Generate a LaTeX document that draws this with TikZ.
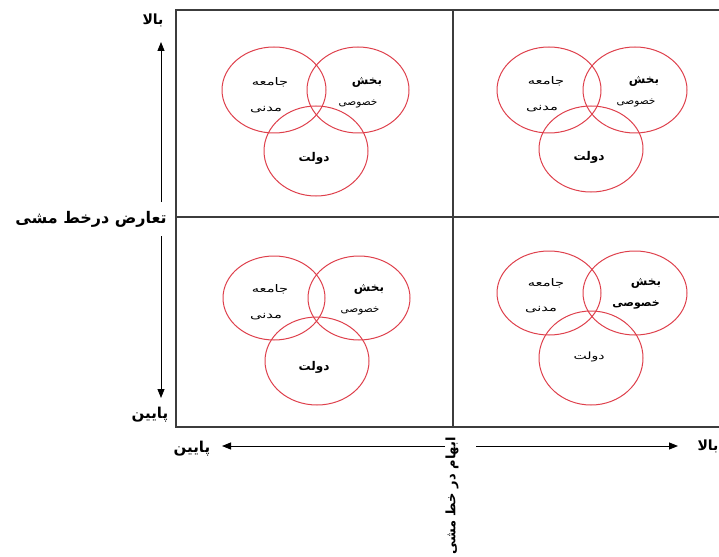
\documentclass[tikz,border=0pt]{standalone}
\usepackage{fontspec}
\usetikzlibrary{arrows.meta,shapes.geometric}
\TeXXeTstate=1
\newfontfamily\arabicfont[Script=Arabic]{DejaVu Sans}
\newfontfamily\arabicwide[Script=Arabic,FakeStretch=1.4]{DejaVu Sans}
\definecolor{ringred}{RGB}{222,64,76}
\definecolor{frame}{RGB}{60,60,60}
\newcommand{\rtl}[1]{\beginR #1\endR}
\tikzset{
  ring/.style={draw=ringred, line width=1pt, ellipse, inner sep=0pt},
  cellw/.style={font=\arabicwide\fontsize{10.5}{11}\selectfont, inner sep=0pt},
  cell/.style={font=\arabicfont\fontsize{10.5}{11}\selectfont, inner sep=0pt},
  cellb/.style={font=\arabicfont\bfseries\fontsize{12}{13}\selectfont, inner sep=0pt},
  axis/.style={font=\arabicfont\bfseries\fontsize{14}{15}\selectfont, inner sep=0pt},
  arr/.style={draw=black, line width=0.9pt, -{Triangle[length=9pt,width=7pt]}},
  gridline/.style={draw=frame, line width=1.1pt}
}
\begin{document}
\begin{tikzpicture}[x=1pt,y=-1pt]
\useasboundingbox (0,0) rectangle (719,556);

% quadrant frame (runs off the right edge)
\coordinate (tl) at (176,10);
\coordinate (bl) at (176,427);
\coordinate (tr) at (725,10);
\coordinate (br) at (725,427);
\coordinate (mt) at (453,10);
\coordinate (mb) at (453,427);
\coordinate (ml) at (176,217);
\coordinate (mr) at (725,217);
\draw[gridline] (tr) -- (tl) -- (bl) -- (br);
\draw[gridline] (mt) -- (mb);
\draw[gridline] (ml) -- (mr);

% vertical axis
\node[axis] (vhi) at (153,20) {\rtl{بالا}};
\node[axis, font=\arabicfont\bfseries\fontsize{15}{16}\selectfont] (vlo) at (150,415) {\rtl{پایین}};
\node[axis, font=\arabicfont\bfseries\fontsize{16}{18}\selectfont] (vlab) at (91,219) {\rtl{تعارض درخط مشی}};
\coordinate (va) at (161,202);
\coordinate (vtop) at (161,42);
\coordinate (vb) at (161,236);
\coordinate (vbot) at (161,398);
\draw[arr] (va) -- (vtop);
\draw[arr] (vb) -- (vbot);

% horizontal axis
\node[axis, font=\arabicfont\bfseries\fontsize{15}{16}\selectfont] (hlo) at (192,449) {\rtl{پایین}};
\node[axis] (hhi) at (708,446) {\rtl{بالا}};
\node[axis, font=\arabicfont\bfseries\fontsize{13}{14}\selectfont, rotate=90, anchor=east] (hlab) at (452,437) {\rtl{ابهام در خط مشی}};
\coordinate (ha) at (445,446);
\coordinate (hleft) at (222,446);
\coordinate (hb) at (476,446);
\coordinate (hright) at (678,446);
\draw[arr] (ha) -- (hleft);
\draw[arr] (hb) -- (hright);

% top-left cluster
\node[ring, minimum width=104pt, minimum height=86pt] (c1) at (274,90) {};
\node[ring, minimum width=102pt, minimum height=86pt] (p1) at (358,90) {};
\node[ring, minimum width=104pt, minimum height=90pt] (g1) at (316,151) {};
\node[cellw] (c1a) at (270,82) {\rtl{جامعه}};
\node[cellw] (c1b) at (266,110) {\rtl{مدنی}};
\node[cellb] (p1a) at (367,82) {\rtl{بخش}};
\node[cell] (p1b) at (358,104) {\rtl{خصوصی}};
\node[cellb] (g1a) at (314,158) {\rtl{دولت}};

% top-right cluster
\node[ring, minimum width=104pt, minimum height=86pt] (c2) at (549,90) {};
\node[ring, minimum width=104pt, minimum height=86pt] (p2) at (635,90) {};
\node[ring, minimum width=104pt, minimum height=86pt] (g2) at (591,149) {};
\node[cellw] (c2a) at (546,81) {\rtl{جامعه}};
\node[cellw] (c2b) at (542,109) {\rtl{مدنی}};
\node[cellb] (p2a) at (644,81) {\rtl{بخش}};
\node[cell] (p2b) at (636,103) {\rtl{خصوصی}};
\node[cellb] (g2a) at (589,157) {\rtl{دولت}};

% bottom-left cluster
\node[ring, minimum width=102pt, minimum height=84pt] (c3) at (274,298) {};
\node[ring, minimum width=102pt, minimum height=84pt] (p3) at (359,298) {};
\node[ring, minimum width=104pt, minimum height=88pt] (g3) at (317,361) {};
\node[cellw] (c3a) at (270,289) {\rtl{جامعه}};
\node[cellw] (c3b) at (266,317) {\rtl{مدنی}};
\node[cellb] (p3a) at (369,289) {\rtl{بخش}};
\node[cell] (p3b) at (360,311) {\rtl{خصوصی}};
\node[cellb] (g3a) at (314,367) {\rtl{دولت}};

% bottom-right cluster
\node[ring, minimum width=104pt, minimum height=84pt] (c4) at (549,293) {};
\node[ring, minimum width=104pt, minimum height=84pt] (p4) at (635,293) {};
\node[ring, minimum width=104pt, minimum height=94pt] (g4) at (591,358) {};
\node[cellw] (c4a) at (546,283) {\rtl{جامعه}};
\node[cellw] (c4b) at (541,310) {\rtl{مدنی}};
\node[cellb] (p4a) at (646,283) {\rtl{بخش}};
\node[cellb, font=\arabicfont\bfseries\fontsize{11}{12}\selectfont] (p4b) at (636,305) {\rtl{خصوصی}};
\node[cellw, font=\arabicwide\fontsize{10}{11}\selectfont] (g4a) at (589,357) {\rtl{دولت}};
\end{tikzpicture}
\end{document}
